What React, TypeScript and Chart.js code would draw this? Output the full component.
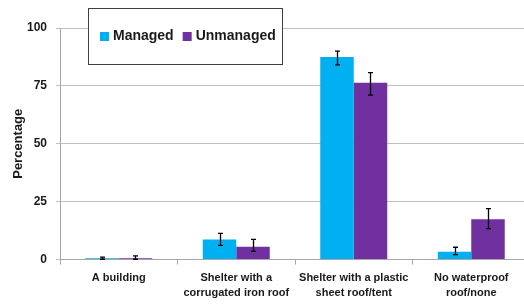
import React, { useEffect, useRef } from "react";
import { Chart, registerables } from "chart.js";

Chart.register(...registerables);

const categories: string[][] = [
  ["A building"],
  ["Shelter with a", "corrugated iron roof"],
  ["Shelter with a plastic", "sheet roof/tent"],
  ["No waterproof", "roof/none"],
];
const seriesNames = ["Managed", "Unmanaged"];
const managed = [0.5, 8.6, 87.5, 3.3];
const managedLow = [0.1, 6.1, 84.1, 2.1];
const managedHigh = [1.0, 11.3, 90.0, 5.3];
const unmanaged = [0.5, 5.5, 76.3, 17.4];
const unmanagedLow = [0.1, 3.5, 71.0, 13.3];
const unmanagedHigh = [1.6, 8.7, 80.7, 22.0];
const yTicks = [0, 25, 50, 75, 100];

const FONT = "'Liberation Sans', Arial, sans-serif";

const errorBarPlugin = {
  id: "errorBars",
  afterDatasetsDraw(chart: any) {
    const ctx = chart.ctx;
    const y = chart.scales.y;
    chart.data.datasets.forEach((ds: any, i: number) => {
      const meta = chart.getDatasetMeta(i);
      meta.data.forEach((bar: any, j: number) => {
        const lo = y.getPixelForValue(ds.errLow[j]);
        const hi = y.getPixelForValue(ds.errHigh[j]);
        const x = Math.round(bar.x) + 0.5;
        ctx.save();
        ctx.strokeStyle = "#000";
        ctx.lineWidth = 1.3;
        ctx.beginPath();
        ctx.moveTo(x, lo);
        ctx.lineTo(x, hi);
        ctx.moveTo(x - 2.5, lo);
        ctx.lineTo(x + 2.5, lo);
        ctx.moveTo(x - 2.5, hi);
        ctx.lineTo(x + 2.5, hi);
        ctx.stroke();
        ctx.restore();
      });
    });
  },
};

const legendBoxPlugin = {
  id: "legendBox",
  afterDraw(chart: any) {
    const ctx = chart.ctx;
    ctx.save();
    ctx.fillStyle = "#fff";
    ctx.fillRect(88, 8, 194, 56);
    ctx.strokeStyle = "#404040";
    ctx.lineWidth = 1;
    ctx.strokeRect(88.5, 8.5, 194, 56);
    ctx.font = `bold 14px ${FONT}`;
    ctx.textBaseline = "middle";
    let x = 100;
    chart.data.datasets.forEach((ds: any) => {
      ctx.fillStyle = ds.backgroundColor;
      ctx.fillRect(x, 32, 9, 9);
      ctx.fillStyle = "#1a1a1a";
      ctx.fillText(ds.label, x + 13, 36.5);
      x += 13 + ctx.measureText(ds.label).width + 9;
    });
    ctx.restore();
  },
};

export default function App() {
  const ref = useRef<HTMLCanvasElement | null>(null);
  useEffect(() => {
    document.body.style.margin = "0";
    document.body.style.overflow = "hidden";
    const chart = new Chart(ref.current as HTMLCanvasElement, {
      type: "bar",
      data: {
        labels: categories,
        datasets: [
          {
            label: seriesNames[0],
            data: managed,
            backgroundColor: "#00B0F0",
            errLow: managedLow,
            errHigh: managedHigh,
            categoryPercentage: 0.57,
            barPercentage: 1.0,
          } as any,
          {
            label: seriesNames[1],
            data: unmanaged,
            backgroundColor: "#7030A0",
            errLow: unmanagedLow,
            errHigh: unmanagedHigh,
            categoryPercentage: 0.57,
            barPercentage: 1.0,
          } as any,
        ],
      },
      options: {
        responsive: false,
        animation: false,
        layout: { padding: { top: 28, right: 10, left: 11, bottom: 0 } },
        plugins: { legend: { display: false }, tooltip: { enabled: false } },
        scales: {
          x: {
            offset: true,
            grid: {
              offset: true,
              drawOnChartArea: false,
              drawTicks: true,
              tickLength: 5,
              color: "#a6a6a6",
            },
            border: { color: "#a6a6a6", width: 1 },
            ticks: {
              color: "#1a1a1a",
              font: { family: FONT, size: 11, weight: "bold", lineHeight: 1.35 },
              padding: 6,
              maxRotation: 0,
              autoSkip: false,
            },
            afterFit: (s: any) => {
              s.height = 44.5;
            },
          },
          y: {
            min: 0,
            max: 100,
            afterBuildTicks: (s: any) => {
              s.ticks = yTicks.map((v) => ({ value: v }));
            },
            grid: { color: "#c0c0c0", tickLength: 4, lineWidth: 1 },
            border: { color: "#a6a6a6", width: 1 },
            ticks: {
              color: "#1a1a1a",
              font: { family: FONT, size: 12, weight: "bold" },
              padding: 9,
            },
            title: {
              display: true,
              text: "Percentage",
              color: "#1a1a1a",
              font: { family: FONT, size: 13, weight: "bold" },
              padding: { top: 0, bottom: 0 },
            },
            afterFit: (s: any) => {
              s.width = 49;
            },
          },
        },
      },
      plugins: [errorBarPlugin, legendBoxPlugin],
    });
    return () => chart.destroy();
  }, []);
  return <canvas ref={ref} width={540} height={304} style={{ display: "block" }} />;
}
